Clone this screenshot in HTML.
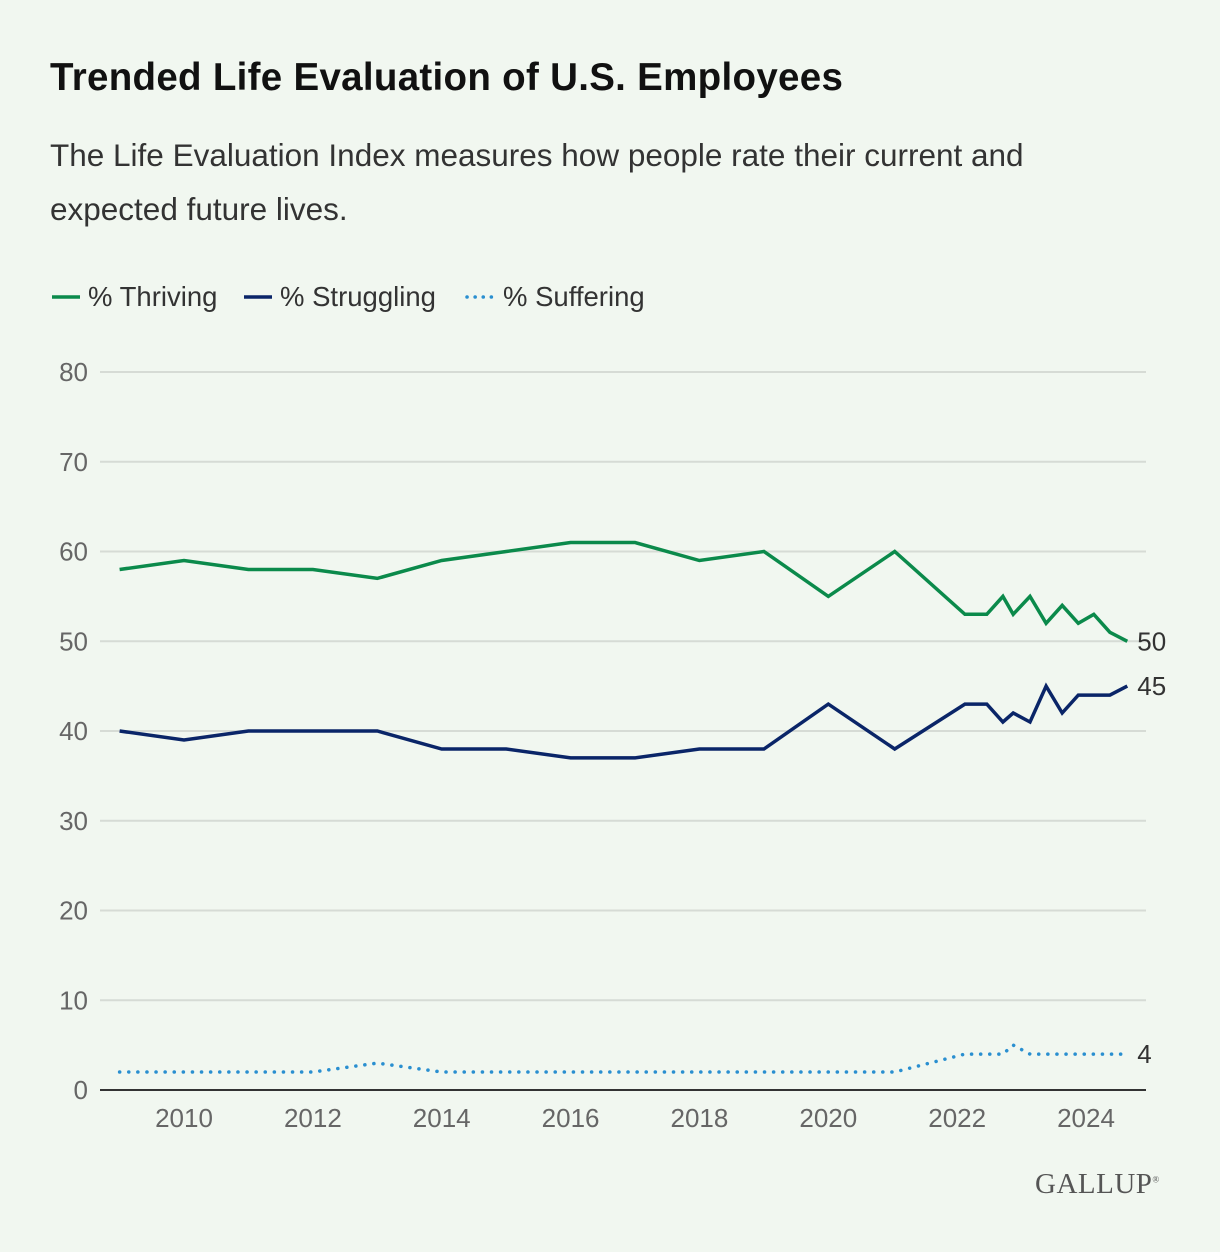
<!DOCTYPE html>
<html><head><meta charset="utf-8"><style>
body{margin:0;background:#f1f7f0;font-family:"Liberation Sans",sans-serif;}
#wrap{position:relative;width:1220px;height:1252px;background:#f1f7f0;overflow:hidden}
h1{position:absolute;left:50px;top:56px;margin:0;font-size:38.5px;font-weight:bold;color:#111;letter-spacing:0.3px}
.sub{position:absolute;left:50px;top:128px;font-size:31.5px;line-height:54px;color:#333;width:1060px}
.logo{position:absolute;left:1035px;top:1168px;font-family:"Liberation Serif",serif;font-size:29px;color:#555;letter-spacing:0.5px}
</style></head><body>
<div id="wrap">
<h1>Trended Life Evaluation of U.S. Employees</h1>
<div class="sub">The Life Evaluation Index measures how people rate their current and<br>expected future lives.</div>
<svg id="chart" width="1220" height="1252" style="position:absolute;left:0;top:0"></svg>
<div class="logo">GALLUP<sup style="font-size:9px">®</sup></div>
</div>
<script>
const years=[2009,2010,2011,2012,2013,2014,2015,2016,2017,2018,2019,2020,2021.03,2022.12,2022.46,2022.71,2022.87,2023.13,2023.38,2023.63,2023.88,2024.12,2024.37,2024.64];
const thriving=[58,59,58,58,57,59,60,61,61,59,60,55,60,53,53,55,53,55,52,54,52,53,51,50];
const struggling=[40,39,40,40,40,38,38,37,37,38,38,43,38,43,43,41,42,41,45,42,44,44,44,45];
const suffering=[2,2,2,2,3,2,2,2,2,2,2,2,2,4,4,4,5,4,4,4,4,4,4,4];
const yTicks=[0,10,20,30,40,50,60,70,80];
const xTicks=[2010,2012,2014,2016,2018,2020,2022,2024];
const NS='http://www.w3.org/2000/svg';
const svg=document.getElementById('chart');
const xs=y=>184+(y-2010)*64.43;
const ys=v=>1090-v*8.975;
function mk(t,a){const e=document.createElementNS(NS,t);for(const k in a)e.setAttribute(k,a[k]);svg.appendChild(e);return e;}
yTicks.forEach(v=>{
 if(v>0){const g=mk('line',{x1:100,x2:1146,y1:ys(v),y2:ys(v),stroke:'#d6dbd5','stroke-width':2});
 
 }
 const t=mk('text',{x:88,y:ys(v)+9,'text-anchor':'end','font-size':26,fill:'#666','font-family':'Liberation Sans, sans-serif'});
 t.textContent=v;
 
 
});
const ax=mk('line',{x1:100,x2:1146,y1:1090,y2:1090,stroke:'#333','stroke-width':2});


xTicks.forEach(v=>{
 const t=mk('text',{x:xs(v),y:1127,'text-anchor':'middle','font-size':26,fill:'#666','font-family':'Liberation Sans, sans-serif'});
 t.textContent=v;
 
 
});
function series(vals,color,dash,name){
 const d=vals.map((v,i)=>(i?'L':'M')+xs(years[i]).toFixed(1)+','+ys(v).toFixed(1)).join('');
 const p=mk('path',{d:d,fill:'none',stroke:color,'stroke-width':3.5,'stroke-linejoin':'miter','stroke-linecap':dash?'round':'butt'});
 if(dash)p.setAttribute('stroke-dasharray','0.1 9');
 
 
 const last=vals[vals.length-1];
 const t=mk('text',{x:xs(years[years.length-1])+10,y:ys(last)+9,'font-size':26,fill:'#333','font-family':'Liberation Sans, sans-serif'});
 t.textContent=last;
 
 
}
series(thriving,'#0b8a4b',false,'thriving');
series(struggling,'#0a2568',false,'struggling');
series(suffering,'#2a8fd0',true,'suffering');
const legend=[['% Thriving','#0b8a4b',false,52],['% Struggling','#0a2568',false,244],['% Suffering','#2a8fd0',true,467]];
legend.forEach(l=>{
 const ln=mk('line',{x1:l[3],x2:l[3]+28,y1:297,y2:297,stroke:l[1],'stroke-width':3.5,'stroke-linecap':l[2]?'round':'butt'});
 if(l[2])ln.setAttribute('stroke-dasharray','0.1 8');
 
 
 const t=mk('text',{x:l[3]+36,y:306,'font-size':27.5,fill:'#333','font-family':'Liberation Sans, sans-serif'});
 t.textContent=l[0];
 
 
});
</script>
</body></html>
